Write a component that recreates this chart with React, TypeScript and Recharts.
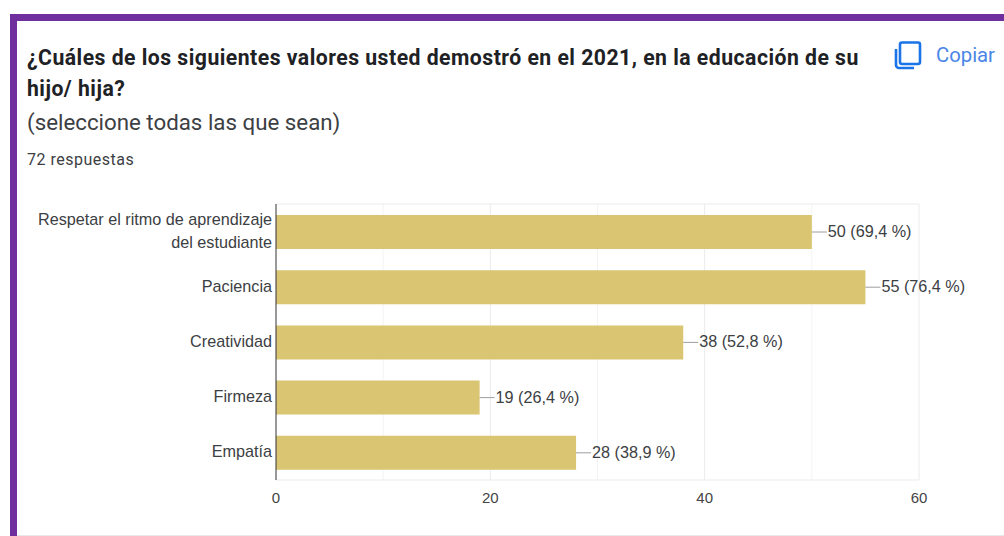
import { BarChart, Bar, XAxis, YAxis, CartesianGrid } from 'recharts'

const categorias = [
  'Respetar el ritmo de aprendizaje del estudiante',
  'Paciencia',
  'Creatividad',
  'Firmeza',
  'Empatía',
]
const respuestas = [50, 55, 38, 19, 28]
const porcentajes = ['69,4', '76,4', '52,8', '26,4', '38,9']
const ticksX = [0, 20, 40, 60]
const gridMenor = [10, 30, 50]
const gridMayor = [20, 40, 60]

const data = categorias.map((nombre, i) => ({
  nombre,
  total: respuestas[i],
  pct: porcentajes[i],
}))

const fuente = 'Roboto, sans-serif'
const fuenteGrafico = '"Liberation Sans", Arial, sans-serif'

// parte la etiqueta larga en dos lineas como hace Google Forms
const partir = (s: string, n = 32) => {
  const lineas: string[] = []
  let actual = ''
  s.split(' ').forEach(p => {
    const prueba = actual ? actual + ' ' + p : p
    if (prueba.length > n) {
      lineas.push(actual)
      actual = p
    } else actual = prueba
  })
  lineas.push(actual)
  return lineas
}

const TickCategoria = ({ x, y, payload }: any) => {
  const lineas = partir(payload.value)
  return (
    <text x={x} y={y} textAnchor="end" fontFamily={fuenteGrafico} fontSize={16.2} fill="#3c4043">
      {lineas.map((l, i) => (
        <tspan key={i} x={x + 5} y={y + 5 + (i - (lineas.length - 1) / 2) * 23}>{l}</tspan>
      ))}
    </text>
  )
}

const Etiqueta = ({ x, y, width, height, index }: any) => {
  const fin = x + width
  const medio = y + height / 2
  return (
    <g>
      <line x1={fin} x2={fin + 15} y1={medio} y2={medio} stroke="#9e9e9e" />
      <text x={fin + 16} y={medio + 5} fontFamily={fuenteGrafico} fontSize={16.2} fill="#3c4043">
        {`${respuestas[index]} (${porcentajes[index]} %)`}
      </text>
    </g>
  )
}

export default function App() {
  return (
    <div style={{ position: 'fixed', left: 0, top: 0, width: 1004, height: 536, background: '#fff', overflow: 'hidden', fontFamily: fuente }}>
      <div style={{ position: 'absolute', left: 10, top: 14, width: 1004, height: 540, borderTop: '7px solid #6f2f9f', borderLeft: '7px solid #6f2f9f' }} />
      <div style={{ position: 'absolute', left: 17, top: 535, width: 987, height: 1, background: '#e8e8e8' }} />

      <div style={{ position: 'absolute', left: 27, top: 42, width: 850, fontSize: 21.2, lineHeight: '31px', letterSpacing: 0.48, fontWeight: 700, color: '#202124' }}>
        ¿Cuáles de los siguientes valores usted demostró en el 2021, en la educación de su hijo/ hija?
      </div>
      <div style={{ position: 'absolute', left: 27, top: 106, fontSize: 22.3, lineHeight: '32px', color: '#3c4043' }}>
        (seleccione todas las que sean)
      </div>
      <div style={{ position: 'absolute', left: 27, top: 150, fontSize: 16, lineHeight: '20px', letterSpacing: 0.5, color: '#3c4043' }}>
        72 respuestas
      </div>

      <svg style={{ position: 'absolute', left: 894, top: 40 }} width={28} height={30} viewBox="0 0 28 30">
        <path d="M8 2.5 H24 A2 2 0 0 1 26 4.5 V22 A2 2 0 0 1 24 24 H8 A2 2 0 0 1 6 22 V4.5 A2 2 0 0 1 8 2.5 Z" fill="none" stroke="#1a73e8" strokeWidth={2.6} />
        <path d="M2 9 V25 A3 3 0 0 0 5 28 H20" fill="none" stroke="#1a73e8" strokeWidth={2.6} />
      </svg>
      <div style={{ position: 'absolute', left: 936, top: 44, fontSize: 20.3, lineHeight: '22px', color: '#4a86e8' }}>Copiar</div>

      <div style={{ position: 'absolute', left: 0, top: 0 }}>
        <BarChart
          width={1004}
          height={536}
          data={data}
          layout="vertical"
          margin={{ top: 204, right: 85, left: 0, bottom: 0 }}
          barSize={34}
        >
          <CartesianGrid
            stroke="#f3f3f3"
            verticalValues={gridMenor}
            horizontal={false}
          />
          <CartesianGrid
            stroke="#ebebeb"
            verticalValues={gridMayor}
            horizontalCoordinatesGenerator={({ offset }: any) => [offset.top, offset.top + offset.height]}
          />
          <XAxis
            type="number"
            domain={[0, 60]}
            ticks={ticksX}
            height={56}
            axisLine={false}
            tickLine={false}
            tickMargin={6}
            tick={{ fontSize: 15, fill: '#444', fontFamily: fuenteGrafico }}
          />
          <YAxis
            type="category"
            dataKey="nombre"
            width={276}
            axisLine={{ stroke: '#333' }}
            tickLine={false}
            tickMargin={3}
            interval={0}
            tick={<TickCategoria />}
          />
          <Bar dataKey="total" fill="#d9c572" isAnimationActive={false} label={<Etiqueta />} />
        </BarChart>
      </div>
    </div>
  )
}
